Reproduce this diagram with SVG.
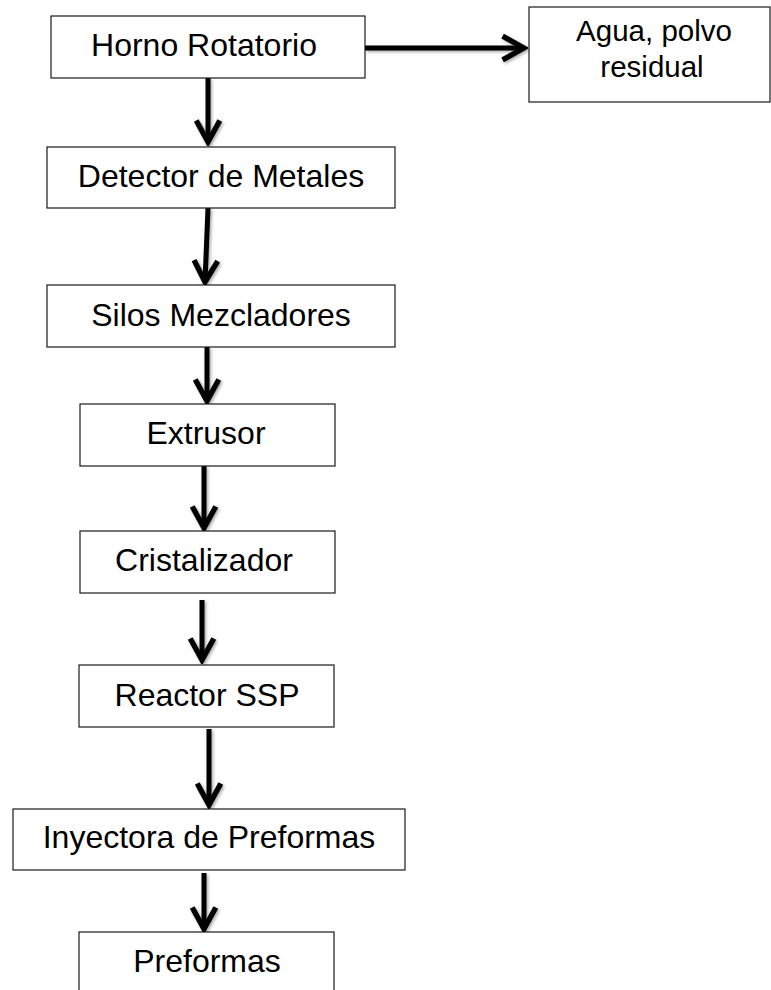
<svg xmlns="http://www.w3.org/2000/svg" width="771" height="990" viewBox="0 0 771 990">
<style>
.box{fill:#fff;stroke:#1a1a1a;stroke-width:1.2}
.t{font-family:"Liberation Sans",Arial,sans-serif;font-size:32px;fill:#000;text-anchor:middle}
.ts{font-family:"Liberation Sans",Arial,sans-serif;font-size:29.5px;fill:#000;text-anchor:middle}
.c{fill:none;stroke:#000;stroke-width:5;marker-end:url(#ah)}
</style>
<defs>
<marker id="ah" markerUnits="userSpaceOnUse" markerWidth="30" markerHeight="30" viewBox="-24 -14 28 28" refX="0" refY="0" orient="auto">
<path d="M-20,-11 L0,0 L-20,11" fill="none" stroke="#000" stroke-width="5" stroke-linejoin="miter"/>
</marker>
<filter id="sh" x="-20%" y="-20%" width="140%" height="140%">
<feDropShadow dx="1.5" dy="1.5" stdDeviation="1.5" flood-color="#000" flood-opacity="0.35"/>
</filter>
</defs>
<g id="connectors" filter="url(#sh)">
<path class="c" d="M365,48 L524,48"/>
<path class="c" d="M208,78 L208,142"/>
<path class="c" d="M208,208 L205,282"/>
<path class="c" d="M207,347 L207,401"/>
<path class="c" d="M204,466 L204,528"/>
<path class="c" d="M202,600 L202,660"/>
<path class="c" d="M209,729 L209,805"/>
<path class="c" d="M204,873 L204,929"/>
</g>
<g id="horno"><rect class="box" x="51" y="16" width="314" height="62"/><text class="t" x="204" y="56">Horno Rotatorio</text></g>
<g id="agua"><rect class="box" x="529" y="7" width="241" height="95"/><text class="ts" x="654" y="41">Agua, polvo</text><text class="ts" x="652" y="77">residual</text></g>
<g id="detector"><rect class="box" x="47" y="147" width="348" height="61"/><text class="t" x="221" y="186.5">Detector de Metales</text></g>
<g id="silos"><rect class="box" x="47" y="285" width="348" height="62"/><text class="t" x="221" y="326">Silos Mezcladores</text></g>
<g id="extrusor"><rect class="box" x="80" y="404" width="255" height="62"/><text class="t" x="206" y="444">Extrusor</text></g>
<g id="cristalizador"><rect class="box" x="80" y="531" width="255" height="62"/><text class="t" x="204" y="571">Cristalizador</text></g>
<g id="reactor"><rect class="box" x="79" y="665" width="255" height="62"/><text class="t" x="207" y="705.5">Reactor SSP</text></g>
<g id="inyectora"><rect class="box" x="13" y="809" width="392" height="61"/><text class="t" x="209" y="848">Inyectora de Preformas</text></g>
<g id="preformas"><rect class="box" x="79" y="932" width="255" height="70"/><text class="t" x="207" y="971.5">Preformas</text></g>
</svg>
